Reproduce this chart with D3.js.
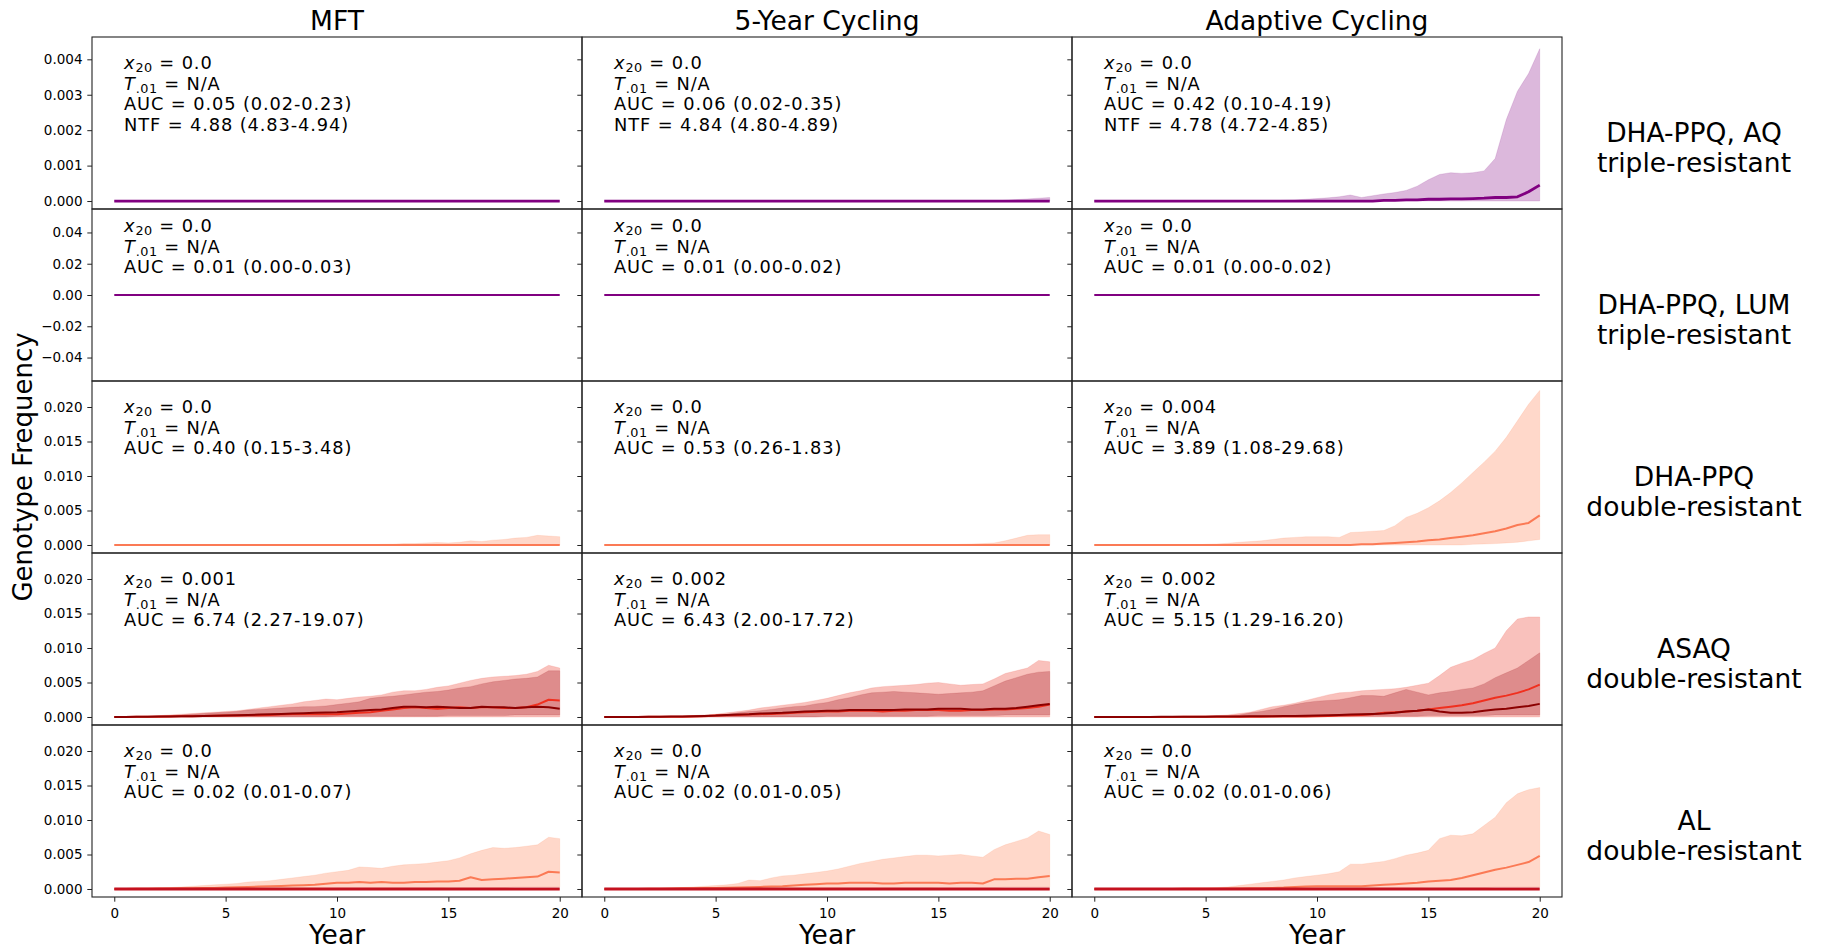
<!DOCTYPE html>
<html>
<head>
<meta charset="utf-8">
<script src="https://cdn.jsdelivr.net/npm/d3@7"></script>
<style>
body { margin: 0; background: #fff; }
svg text { font-family: "DejaVu Sans", sans-serif; fill: #000; }
</style>
</head>
<body>
<svg id="fig" width="1822" height="951"></svg>
<script>

// ---- data ----
var years = [0,0.5,1,1.5,2,2.5,3,3.5,4,4.5,5,5.5,6,6.5,7,7.5,8,8.5,9,9.5,10,10.5,11,11.5,12,12.5,13,13.5,14,14.5,15,15.5,16,16.5,17,17.5,18,18.5,19,19.5,20];
var flat = [0,0,0,0,0,0,0,0,0,0,0,0,0,0,0,0,0,0,0,0,0,0,0,0,0,0,0,0,0,0,0,0,0,0,0,0,0,0,0,0,0];

var colTitles = ["MFT", "5-Year Cycling", "Adaptive Cycling"];
var rowLabels = [["DHA-PPQ, AQ", "triple-resistant"], ["DHA-PPQ, LUM", "triple-resistant"],
                 ["DHA-PPQ", "double-resistant"], ["ASAQ", "double-resistant"], ["AL", "double-resistant"]];

var yTicksTriple = [0, 0.001, 0.002, 0.003, 0.004];
var yTicksLum = [-0.04, -0.02, 0, 0.02, 0.04];
var yTicksDouble = [0, 0.005, 0.010, 0.015, 0.020];
var xTicks = [0, 5, 10, 15, 20];

var statX20 = [["0.0","0.0","0.0"], ["0.0","0.0","0.0"], ["0.0","0.0","0.004"], ["0.001","0.002","0.002"], ["0.0","0.0","0.0"]];
var statAUC = [["0.05 (0.02-0.23)","0.06 (0.02-0.35)","0.42 (0.10-4.19)"],
               ["0.01 (0.00-0.03)","0.01 (0.00-0.02)","0.01 (0.00-0.02)"],
               ["0.40 (0.15-3.48)","0.53 (0.26-1.83)","3.89 (1.08-29.68)"],
               ["6.74 (2.27-19.07)","6.43 (2.00-17.72)","5.15 (1.29-16.20)"],
               ["0.02 (0.01-0.07)","0.02 (0.01-0.05)","0.02 (0.01-0.06)"]];
var statNTF = ["4.88 (4.83-4.94)","4.84 (4.80-4.89)","4.78 (4.72-4.85)"];

// DHA-PPQ, AQ triple-resistant
var aq_cyc_hi = [0,0,0,0,0,0,0,0,0,0,0,0,0,0,0,0,0,0,0,0,0,0,0,0,0,0,0,0,0,0,0,0,0,0,0,0,0.00002,0.00004,0.00006,0.00008,0.0001];
var aq_ada_hi = [0,0,0,0,0,0,0,0,0,0,0,0,0,0,0,0,0,0.00002,0.00003,0.00005,0.00007,0.00009,0.00012,0.00017,0.0001,0.00015,0.0002,0.00024,0.0003,0.00042,0.0006,0.00075,0.0008,0.00078,0.0008,0.00085,0.0012,0.0023,0.0031,0.0036,0.0043];
var aq_ada_med = [0,0,0,0,0,0,0,0,0,0,0,0,0,0,0,0,0,0,0,0,0,0,0,0,0,0,0.00002,0.00002,0.00003,0.00003,0.00005,0.00005,0.00006,0.00006,0.00007,0.00008,0.0001,0.0001,0.00012,0.00026,0.00045];

// DHA-PPQ double-resistant
var ppq_mft_hi = [0,0,0,0,0,0,0,0,0,0,0,0,0,0,0,0,0,0,0,0,0,0,0,0,0.0001,0.00012,0.0002,0.0002,0.0003,0.00035,0.0003,0.0004,0.0006,0.0005,0.0007,0.0008,0.001,0.0011,0.0014,0.0013,0.0012];
var ppq_cyc_hi = [0,0,0,0,0,0,0,0,0,0,0,0,0,0,0,0,0,0,0,0,0,0,0,0,0,0,0,0,0,0,0,0,0.0001,0.00015,0.0002,0.0003,0.0006,0.001,0.0014,0.0015,0.0015];
var ppq_ada_hi = [0,0,0,0,0,0,0,0,0,0,0.0001,0.00015,0.00025,0.0004,0.0005,0.0006,0.0008,0.001,0.0011,0.0012,0.0012,0.0012,0.0011,0.0018,0.0019,0.002,0.0021,0.0028,0.004,0.0046,0.0054,0.0064,0.0076,0.009,0.0105,0.012,0.0136,0.0156,0.018,0.0204,0.0224];
var ppq_ada_med = [0,0,0,0,0,0,0,0,0,0,0,0,0,0,0,0,0,0,0,0,0,0,0,0,0.0001,0.0001,0.0002,0.0003,0.0004,0.0005,0.0007,0.0008,0.001,0.0012,0.0014,0.0017,0.002,0.0024,0.0029,0.0032,0.0043];
var ppq_ada_lo = [0,0,0,0,0,0,0,0,0,0,0,0,0,0,0,0,0,0,0,0,0,0,0,0,0,0,0,0,0,0,0,0,0,0,0.0001,0.00015,0.0002,0.0003,0.0004,0.0006,0.0008];

// ASAQ double-resistant: genotype a (red) and b (dark red)
var asaq_mft_aHi = [0,0.00003,0.00005,0.0001,0.0002,0.0003,0.0004,0.0005,0.0006,0.0007,0.0008,0.0009,0.0011,0.0013,0.0015,0.0017,0.0019,0.0022,0.0024,0.0026,0.0025,0.0027,0.0029,0.003,0.0032,0.0036,0.0038,0.0038,0.004,0.0043,0.0045,0.0049,0.0053,0.0056,0.0058,0.0059,0.006,0.0062,0.0066,0.0075,0.0071];
var asaq_mft_bHi = [0,0.00002,0.00005,0.0001,0.00015,0.0002,0.0003,0.0004,0.0005,0.0006,0.0007,0.0008,0.001,0.0011,0.0012,0.0013,0.0014,0.0015,0.0015,0.0016,0.0018,0.002,0.0022,0.0027,0.0029,0.003,0.0032,0.0034,0.0036,0.0037,0.0039,0.0042,0.0044,0.0048,0.0051,0.0053,0.0055,0.0056,0.0058,0.0067,0.0067];
var asaq_mft_aMed = [0,0,0.00002,0.00003,0.00005,0.00007,0.0001,0.00012,0.00015,0.00017,0.0002,0.00022,0.00025,0.00027,0.0003,0.00035,0.0004,0.0004,0.0004,0.0004,0.0004,0.0005,0.0006,0.0007,0.0009,0.0011,0.0013,0.0014,0.0013,0.0012,0.0013,0.0014,0.0013,0.0014,0.0014,0.0013,0.0013,0.0014,0.0018,0.0025,0.0024];
var asaq_mft_bMed = [0,0,0.00002,0.00004,0.00006,0.00008,0.0001,0.00012,0.00014,0.00017,0.0002,0.00025,0.0003,0.00035,0.0004,0.00045,0.0005,0.00055,0.0006,0.00065,0.0007,0.0008,0.0009,0.001,0.0011,0.0013,0.0015,0.0015,0.0014,0.0015,0.0014,0.0013,0.0013,0.0015,0.0014,0.0014,0.0013,0.0014,0.0015,0.0014,0.0012];
var asaq_cyc_aHi = [0,0,0,0.00002,0.00003,0.00004,0.00005,0.0001,0.0002,0.0003,0.0004,0.0006,0.0008,0.001,0.0013,0.0015,0.0017,0.0019,0.0021,0.0024,0.0027,0.0031,0.0035,0.0038,0.0042,0.0044,0.0045,0.0046,0.0047,0.0049,0.005,0.0048,0.0046,0.0047,0.0048,0.0055,0.0063,0.0067,0.0071,0.0082,0.008];
var asaq_cyc_bHi = [0,0,0,0,0.00002,0.00004,0.00006,0.0001,0.00014,0.00018,0.0002,0.0004,0.0006,0.0008,0.0009,0.0011,0.0013,0.0015,0.0016,0.0019,0.0021,0.0025,0.0028,0.0032,0.0035,0.0036,0.0037,0.0036,0.0035,0.0034,0.0033,0.0034,0.0035,0.0036,0.0038,0.0045,0.0052,0.0057,0.0062,0.0065,0.0066];
var asaq_cyc_aMed = [0,0,0,0.00001,0.00002,0.00003,0.00004,0.00005,0.00007,0.0001,0.0002,0.00025,0.0003,0.00035,0.0004,0.00045,0.0005,0.0006,0.0007,0.00075,0.0008,0.0008,0.0009,0.0009,0.0009,0.0008,0.0009,0.0009,0.001,0.001,0.001,0.0009,0.0009,0.001,0.001,0.0011,0.0011,0.0012,0.0013,0.0015,0.0018];
var asaq_cyc_bMed = [0,0,0,0.00001,0.00002,0.00004,0.00006,0.00008,0.0001,0.00015,0.0002,0.0003,0.00035,0.0004,0.0005,0.00055,0.0006,0.0007,0.0008,0.00085,0.0009,0.0009,0.001,0.001,0.001,0.001,0.001,0.0011,0.0011,0.0011,0.0012,0.0012,0.0012,0.0011,0.0011,0.0012,0.0012,0.0013,0.0015,0.0017,0.0019];
var asaq_ada_aHi = [0,0,0,0,0,0.00002,0.00004,0.00006,0.00008,0.0001,0.00015,0.0002,0.0003,0.0005,0.0007,0.0011,0.0015,0.0017,0.002,0.0024,0.0028,0.0032,0.0035,0.0036,0.0038,0.0039,0.004,0.0041,0.0043,0.0046,0.0049,0.006,0.0072,0.0078,0.0083,0.0092,0.01,0.0125,0.0142,0.0145,0.0145];
var asaq_ada_bHi = [0,0,0,0,0,0.00001,0.00002,0.00004,0.00006,0.00008,0.0001,0.00012,0.00015,0.0003,0.0006,0.0008,0.0011,0.0015,0.0018,0.0021,0.0023,0.0024,0.0025,0.0028,0.0031,0.0031,0.003,0.0035,0.004,0.0036,0.0032,0.0035,0.0037,0.004,0.0042,0.0048,0.0057,0.0064,0.0071,0.0082,0.0093];
var asaq_ada_aMed = [0,0,0,0,0,0,0.00001,0.00001,0.00002,0.00002,0.00003,0.00003,0.00004,0.00004,0.00005,0.00005,0.00006,0.00006,0.00007,0.00008,0.0001,0.00015,0.0002,0.00025,0.0003,0.0004,0.0006,0.0007,0.0008,0.0009,0.0011,0.0013,0.0015,0.0017,0.002,0.0024,0.0028,0.0031,0.0035,0.004,0.0047];
var asaq_ada_bMed = [0,0,0,0,0,0.00001,0.00002,0.00002,0.00003,0.00004,0.00005,0.00006,0.00007,0.00008,0.0001,0.00011,0.00012,0.00014,0.00015,0.00018,0.0002,0.00025,0.0003,0.00035,0.0004,0.00045,0.0005,0.0006,0.0008,0.0009,0.0011,0.0008,0.0006,0.0006,0.0007,0.0009,0.0011,0.0012,0.0014,0.0016,0.0019];
var asaq_bLo = [0,0,0,0,0,0,0,0,0,0,0,0,0,0,0,0,0,0,0,0,0.0001,0.0001,0.0001,0.0001,0.0001,0.0001,0.0001,0.0001,0.0001,0.0001,0.0002,0.0002,0.0002,0.0002,0.0002,0.0002,0.0003,0.0003,0.0003,0.0003,0.0003];

// AL double-resistant
var al_mft_hi = [0,0.00002,0.00005,0.00008,0.0001,0.0002,0.0003,0.0004,0.0005,0.0006,0.0007,0.0008,0.001,0.0011,0.0012,0.0014,0.0016,0.0018,0.002,0.0023,0.0025,0.0027,0.0032,0.0031,0.003,0.0033,0.0035,0.0036,0.0037,0.0039,0.0041,0.0045,0.0051,0.0056,0.006,0.0059,0.006,0.0062,0.0064,0.0075,0.0073];
var al_mft_med = [0,0,0.00002,0.00004,0.00006,0.00008,0.0001,0.00012,0.00014,0.00016,0.0002,0.00025,0.0003,0.00035,0.0004,0.00045,0.0005,0.00055,0.0006,0.00075,0.0009,0.0009,0.001,0.0009,0.001,0.0009,0.0009,0.001,0.001,0.0011,0.0011,0.0012,0.0017,0.0013,0.0014,0.0015,0.0016,0.0017,0.0018,0.0025,0.0024];
var al_cyc_hi = [0,0,0,0.00003,0.00005,0.00008,0.0001,0.0002,0.0003,0.0004,0.0005,0.0006,0.0008,0.0013,0.0012,0.0016,0.0019,0.002,0.0022,0.0024,0.0026,0.0029,0.0033,0.0037,0.004,0.0043,0.0045,0.0047,0.0049,0.0049,0.0048,0.0049,0.005,0.0048,0.0046,0.0057,0.0064,0.0069,0.0074,0.0084,0.0079];
var al_cyc_med = [0,0,0,0,0.00002,0.00004,0.00006,0.0001,0.00012,0.00014,0.00016,0.00018,0.0002,0.00025,0.0003,0.00035,0.0004,0.0005,0.0006,0.0007,0.0008,0.0008,0.0009,0.0009,0.0009,0.0008,0.0008,0.0009,0.0009,0.0009,0.0009,0.0008,0.0009,0.0009,0.0008,0.0014,0.0014,0.0015,0.0015,0.0017,0.0019];
var al_ada_hi = [0,0,0,0,0,0.00002,0.00004,0.00006,0.0001,0.00012,0.00015,0.0002,0.0003,0.0005,0.0007,0.0009,0.0011,0.0013,0.0016,0.0018,0.002,0.0022,0.0025,0.0036,0.0036,0.0038,0.004,0.0044,0.0049,0.0052,0.0056,0.0073,0.0078,0.0077,0.008,0.0092,0.0104,0.0125,0.0138,0.0144,0.0147];
var al_ada_med = [0,0,0,0,0,0,0,0.00001,0.00002,0.00003,0.00004,0.00005,0.00006,0.00008,0.0001,0.00012,0.00015,0.0002,0.0003,0.00035,0.0004,0.0004,0.0004,0.0004,0.0004,0.0005,0.0006,0.0007,0.0008,0.0009,0.0011,0.0012,0.0013,0.0016,0.002,0.0024,0.0028,0.0031,0.0035,0.0039,0.0048];
var al_lo = [0,0,0,0,0,0,0,0,0,0,0,0,0,0,0,0,0,0,0,0,0.0001,0.0001,0.0001,0.0001,0.0001,0.0001,0.0001,0.0001,0.0001,0.0001,0.0002,0.0002,0.0002,0.0002,0.0002,0.0002,0.0003,0.0003,0.0003,0.0003,0.0003];

// ---- styles ----
var purple = "#800080", coral = "#fb7a55", red = "#f0301f", darkred = "#8b0000", crimson = "#c4111f";
var bandPurple = {fill: purple, opacity: 0.28},
    bandCoral = {fill: "#ff7f50", opacity: 0.3},
    bandRedA = {fill: "#f06458", opacity: 0.4},
    bandRedB = {fill: "#a0141e", opacity: 0.3};

function band(lo, hi, style) { return {lo: lo, hi: hi, fill: style.fill, opacity: style.opacity}; }
function line(values, color, w) { return {values: values, color: color, width: w}; }

var rowAxes = [
    {domain: [-0.000225, 0.00463], ticks: yTicksTriple, fmt: ".3f", noteTop: 32},
    {domain: [-0.055, 0.055], ticks: yTicksLum, fmt: ".2f", noteTop: 23},
    {domain: [-0.00116, 0.02377], ticks: yTicksDouble, fmt: ".3f", noteTop: 32},
    {domain: [-0.00116, 0.02377], ticks: yTicksDouble, fmt: ".3f", noteTop: 32},
    {domain: [-0.00116, 0.02377], ticks: yTicksDouble, fmt: ".3f", noteTop: 32}
];

var panelSeries = [
    [
        {bands: [band(flat, flat, bandPurple)], lines: [line(flat, purple, 2.8)]},
        {bands: [band(flat, aq_cyc_hi, bandPurple)], lines: [line(flat, purple, 2.8)]},
        {bands: [band(flat, aq_ada_hi, bandPurple)], lines: [line(aq_ada_med, purple, 2.8)]}
    ],
    [
        {bands: [], lines: [line(flat, purple, 2.2)]},
        {bands: [], lines: [line(flat, purple, 2.2)]},
        {bands: [], lines: [line(flat, purple, 2.2)]}
    ],
    [
        {bands: [band(flat, ppq_mft_hi, bandCoral)], lines: [line(flat, coral, 2)]},
        {bands: [band(flat, ppq_cyc_hi, bandCoral)], lines: [line(flat, coral, 2)]},
        {bands: [band(ppq_ada_lo, ppq_ada_hi, bandCoral)], lines: [line(ppq_ada_med, coral, 2)]}
    ],
    [
        {bands: [band(flat, asaq_mft_aHi, bandRedA), band(asaq_bLo, asaq_mft_bHi, bandRedB)],
         lines: [line(asaq_mft_aMed, red, 2), line(asaq_mft_bMed, darkred, 2)]},
        {bands: [band(flat, asaq_cyc_aHi, bandRedA), band(asaq_bLo, asaq_cyc_bHi, bandRedB)],
         lines: [line(asaq_cyc_aMed, red, 2), line(asaq_cyc_bMed, darkred, 2)]},
        {bands: [band(flat, asaq_ada_aHi, bandRedA), band(asaq_bLo, asaq_ada_bHi, bandRedB)],
         lines: [line(asaq_ada_aMed, red, 2), line(asaq_ada_bMed, darkred, 2)]}
    ],
    [
        {bands: [band(al_lo, al_mft_hi, bandCoral)], lines: [line(al_mft_med, coral, 2), line(flat, crimson, 3.2)]},
        {bands: [band(al_lo, al_cyc_hi, bandCoral)], lines: [line(al_cyc_med, coral, 2), line(flat, crimson, 3.2)]},
        {bands: [band(al_lo, al_ada_hi, bandCoral)], lines: [line(al_ada_med, coral, 2), line(flat, crimson, 3.2)]}
    ]
];

function genotype_panel() {

    var width = 0,
        height = 0,
        yDomain = [0, 1],
        yTicks = [],
        yFormat = ".3f",
        showYLabels = false,
        showXAxis = false,
        bands = [],
        lines = [],
        notes = [],
        noteTop = 32;

    function my(g) {

        var xScale = d3.scaleLinear().domain([-1, 21]).range([0, width]);
        var yScale = d3.scaleLinear().domain(yDomain).range([height, 0]);

        bands.forEach(function(b) {
            var area = d3.area()
                .x((d, i) => xScale(years[i]))
                .y0((d, i) => yScale(b.lo[i]))
                .y1(d => yScale(d));
            g.append("path")
                .attr("d", area(b.hi))
                .attr("fill", b.fill)
                .attr("fill-opacity", b.opacity)
                .attr("stroke", b.fill)
                .attr("stroke-opacity", b.opacity * 0.6)
                .attr("stroke-width", 0.8);
        });

        lines.forEach(function(l) {
            var path = d3.line()
                .x((d, i) => xScale(years[i]))
                .y(d => yScale(d));
            g.append("path")
                .attr("d", path(l.values))
                .attr("fill", "none")
                .attr("stroke", l.color)
                .attr("stroke-width", l.width)
                .attr("stroke-linejoin", "round");
        });

        var yAxis = g.append("g").attr("class", "axis yAxis")
            .call(d3.axisLeft(yScale).tickValues(yTicks).tickSize(4.7).tickPadding(4.8)
                .tickFormat(showYLabels ? d3.format(yFormat) : ""));
        yAxis.select(".domain").remove();
        yAxis.selectAll(".tick line").attr("stroke", "#222").attr("stroke-width", 1);
        yAxis.selectAll(".tick text").style("font-size", "13.5px").style("font-family", "DejaVu Sans");

        if (showXAxis) {
            var xAxis = g.append("g").attr("class", "axis xAxis")
                .attr("transform", "translate(0," + height + ")")
                .call(d3.axisBottom(xScale).tickValues(xTicks).tickSize(4.7).tickPadding(7));
            xAxis.select(".domain").remove();
            xAxis.selectAll(".tick line").attr("stroke", "#222").attr("stroke-width", 1);
            xAxis.selectAll(".tick text").style("font-size", "13.5px").style("font-family", "DejaVu Sans");
        }

        g.append("rect")
            .attr("width", width)
            .attr("height", height)
            .attr("fill", "none")
            .attr("stroke", "#222")
            .attr("stroke-width", 1.1);

        //annotation block
        notes.forEach(function(n, i) {
            var t = g.append("text")
                .attr("x", 32)
                .attr("y", noteTop + i * 20.7)
                .style("font-size", "17.8px")
                .style("letter-spacing", "0.9px");
            if (n.sym) {
                t.append("tspan").style("font-style", "oblique").text(n.sym);
                t.append("tspan").attr("dy", 3).style("font-size", "12.8px").style("letter-spacing", "0.5px").text(n.sub);
                t.append("tspan").attr("dy", -3).text(n.rest);
            } else {
                t.text(n.plain);
            }
        });
    }

    my.width = function(value) { if (!arguments.length) return width; width = value; return my; };
    my.height = function(value) { if (!arguments.length) return height; height = value; return my; };
    my.yDomain = function(value) { if (!arguments.length) return yDomain; yDomain = value; return my; };
    my.yTicks = function(value) { if (!arguments.length) return yTicks; yTicks = value; return my; };
    my.yFormat = function(value) { if (!arguments.length) return yFormat; yFormat = value; return my; };
    my.showYLabels = function(value) { if (!arguments.length) return showYLabels; showYLabels = value; return my; };
    my.showXAxis = function(value) { if (!arguments.length) return showXAxis; showXAxis = value; return my; };
    my.bands = function(value) { if (!arguments.length) return bands; bands = value; return my; };
    my.lines = function(value) { if (!arguments.length) return lines; lines = value; return my; };
    my.notes = function(value) { if (!arguments.length) return notes; notes = value; return my; };
    my.noteTop = function(value) { if (!arguments.length) return noteTop; noteTop = value; return my; };
    return my;
}

// ---- layout ----
var margins = {left: 92, top: 37},
    panelWidth = 490,
    panelHeight = 172;

var svg = d3.select("#fig");

rowAxes.forEach(function(row, r) {
    colTitles.forEach(function(title, c) {
        var notes = [
            {sym: "x", sub: "20", rest: " = " + statX20[r][c]},
            {sym: "T", sub: ".01", rest: " = N/A"},
            {plain: "AUC = " + statAUC[r][c]}
        ];
        if (r === 0) notes.push({plain: "NTF = " + statNTF[c]});

        var panel = genotype_panel()
            .width(panelWidth).height(panelHeight)
            .yDomain(row.domain).yTicks(row.ticks).yFormat(row.fmt)
            .showYLabels(c === 0).showXAxis(r === rowAxes.length - 1)
            .bands(panelSeries[r][c].bands).lines(panelSeries[r][c].lines)
            .notes(notes).noteTop(row.noteTop);

        svg.append("g")
            .attr("transform", "translate(" + (margins.left + c * panelWidth) + "," + (margins.top + r * panelHeight) + ")")
            .call(panel);
    });
});

colTitles.forEach(function(title, c) {
    var cx = margins.left + (c + 0.5) * panelWidth;
    svg.append("text").attr("x", cx).attr("y", 29.5)
        .attr("text-anchor", "middle").style("font-size", "26.5px").text(title);
    svg.append("text").attr("x", cx).attr("y", 944)
        .attr("text-anchor", "middle").style("font-size", "26.5px").text("Year");
});

rowLabels.forEach(function(lab, r) {
    var cy = margins.top + (r + 0.5) * panelHeight + 25;
    var t = svg.append("text").attr("text-anchor", "middle").style("font-size", "26.5px");
    t.append("tspan").attr("x", 1694).attr("y", cy - 6).text(lab[0]);
    t.append("tspan").attr("x", 1694).attr("y", cy + 24).text(lab[1]);
});

svg.append("text")
    .attr("transform", "translate(32," + (margins.top + 2.5 * panelHeight) + ") rotate(-90)")
    .attr("text-anchor", "middle")
    .style("font-size", "26px")
    .text("Genotype Frequency");

</script>
</body>
</html>
